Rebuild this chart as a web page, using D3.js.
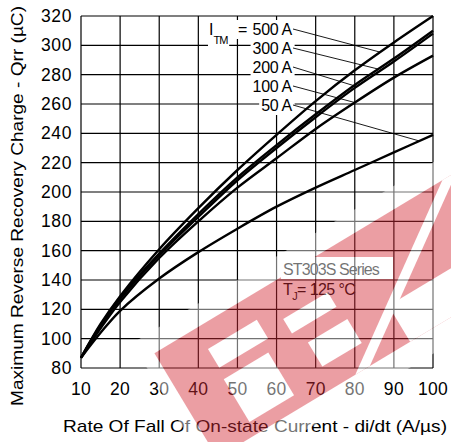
<!DOCTYPE html>
<html>
<head>
<meta charset="utf-8">
<script src="https://cdn.jsdelivr.net/npm/d3@7"></script>
<style>
  body { margin: 0; background: #fff; }
  svg text { font-family: "Liberation Sans", Arial, sans-serif; fill: #000; }
</style>
</head>
<body>
<svg id="chart" width="451" height="442"></svg>
<script>
// data
const didt = [10, 15, 20, 30, 40, 50, 60, 70, 80, 90, 100];
const qrr500 = [87, 110, 129, 161, 189, 215, 239, 262, 283, 302, 320];
const qrr300 = [87, 109, 128, 158, 185, 210, 232, 253, 273, 291, 310];
const qrr200 = [87, 109, 127, 157, 183, 208, 230, 251, 271, 289, 308];
const qrr100 = [87, 107, 125, 155, 180, 203, 223, 243, 261, 278, 293];
const qrr50 = [87, 104, 119, 141, 159, 175, 190, 203, 215, 227, 239];
const currentLabels = ["500 A", "300 A", "200 A", "100 A", "50 A"];
const leaderAt = [86.5, 86, 80.5, 80, 96.5]; // di/dt where each pointer meets its curve
const xTicks = [10, 20, 30, 40, 50, 60, 70, 80, 90, 100];
const yTicks = [80, 100, 120, 140, 160, 180, 200, 220, 240, 260, 280, 300, 320];

const seriesList = [qrr500, qrr300, qrr200, qrr100, qrr50];

const svg = d3.select("#chart");
const x = d3.scaleLinear().domain([10, 100]).range([81, 433]);
const y = d3.scaleLinear().domain([80, 320]).range([368, 16]);

// grid
svg.append("g").selectAll("line").data(xTicks).enter().append("line")
  .attr("x1", d => x(d)).attr("x2", d => x(d))
  .attr("y1", y(80)).attr("y2", y(320))
  .attr("stroke", "#000").attr("stroke-width", 1.2);
svg.append("g").selectAll("line").data(yTicks).enter().append("line")
  .attr("x1", x(10)).attr("x2", x(100))
  .attr("y1", d => y(d)).attr("y2", d => y(d))
  .attr("stroke", "#000").attr("stroke-width", 1.2);

// tick labels
svg.append("g").selectAll("text").data(yTicks).enter().append("text")
  .attr("x", 72).attr("y", d => y(d) + 6)
  .attr("text-anchor", "end").style("font-size", "17.5px")
  .style("letter-spacing", "0.6px")
  .text(d => d);
svg.append("g").selectAll("text").data(xTicks).enter().append("text")
  .attr("x", d => x(d)).attr("y", 395)
  .attr("text-anchor", "middle").style("font-size", "17.5px")
  .style("letter-spacing", "0.3px")
  .text(d => d);

// axis titles
svg.append("text")
  .attr("x", 255).attr("y", 432)
  .attr("text-anchor", "middle").style("font-size", "17px")
  .attr("textLength", 384).attr("lengthAdjust", "spacingAndGlyphs")
  .text("Rate Of Fall Of On-state Current - di/dt (A/µs)");
svg.append("text")
  .attr("transform", "translate(23,206) rotate(-90)")
  .attr("text-anchor", "middle").style("font-size", "17px")
  .attr("textLength", 400).attr("lengthAdjust", "spacingAndGlyphs")
  .text("Maximum Reverse Recovery Charge - Qrr (µC)");

// curves
const line = d3.line()
  .x((d, i) => x(didt[i]))
  .y(d => y(d))
  .curve(d3.curveCatmullRom.alpha(0.5));
svg.append("g").selectAll("path").data(seriesList).enter().append("path")
  .attr("d", d => line(d))
  .attr("fill", "none").attr("stroke", "#000").attr("stroke-width", 2.4);

// current labels with white boxes and pointer lines
const labelG = svg.append("g");
const baselines = currentLabels.map((d, i) => 35 + i * 19);
const labelTexts = labelG.selectAll("text").data(currentLabels).enter().append("text")
  .attr("x", 292).attr("y", (d, i) => baselines[i])
  .attr("text-anchor", "end").style("font-size", "16px")
  .style("letter-spacing", "-0.3px")
  .text(d => d);
labelTexts.each(function () {
  const b = this.getBBox();
  labelG.insert("rect", "text")
    .attr("x", b.x - 2).attr("y", b.y - 1)
    .attr("width", b.width + 4).attr("height", b.height + 2)
    .attr("fill", "#fff");
});
const eqText = labelG.append("text").attr("x", 238).attr("y", 35).style("font-size", "16px").text("=");
const eb = eqText.node().getBBox();
labelG.insert("rect", "text").attr("x", eb.x - 2).attr("y", eb.y - 1)
  .attr("width", eb.width + 4).attr("height", eb.height + 2).attr("fill", "#fff");
const itm = labelG.append("text").attr("x", 209).attr("y", 35).style("font-size", "16px");
itm.append("tspan").text("I");
itm.append("tspan").attr("dy", 9).style("font-size", "11px").style("letter-spacing", "-1px").text("TM");
const ib = itm.node().getBBox();
labelG.insert("rect", "text").attr("x", ib.x - 1).attr("y", ib.y)
  .attr("width", ib.width + 2).attr("height", ib.height).attr("fill", "#fff");

function valueAt(series, xv) {
  const i = Math.min(d3.bisectRight(didt, xv) - 1, didt.length - 2);
  const t = (xv - didt[i]) / (didt[i + 1] - didt[i]);
  return series[i] + t * (series[i + 1] - series[i]);
}
labelG.selectAll("line").data(currentLabels).enter().append("line")
  .attr("x1", 293).attr("y1", (d, i) => baselines[i] - 6)
  .attr("x2", (d, i) => x(leaderAt[i]))
  .attr("y2", (d, i) => y(valueAt(seriesList[i], leaderAt[i])))
  .attr("stroke", "#000").attr("stroke-width", 0.9);

// series note
svg.append("text").attr("x", 283).attr("y", 275)
  .style("font-size", "16px").style("letter-spacing", "-0.9px")
  .text("ST303S Series");
const tj = svg.append("text").attr("x", 283).attr("y", 295).style("font-size", "16px").style("letter-spacing", "-0.6px");
tj.append("tspan").text("T");
tj.append("tspan").attr("dy", 5).style("font-size", "11px").text("J");
tj.append("tspan").attr("dy", -5).text("= 125 °C");

// red watermark on top, semi transparent
const wmTop = svg.append("g").attr("opacity", 0.45);
const wm = wmTop.append("g").attr("transform", "translate(163,348) rotate(-31)");
wm.append("rect").attr("x", -24).attr("y", -20).attr("width", 500).attr("height", 164).attr("fill", "#fff");
wm.append("rect").attr("x", -10).attr("y", 0).attr("width", 480).attr("height", 122).attr("fill", "#d42a36");
const cuts = [[38, 24, 57, 22], [36, 58, 52, 50], [118, 37, 52, 17], [127, 70, 46, 28], [215, 80, 260, 42]];
wm.selectAll("rect.cut").data(cuts).enter().append("rect").attr("class", "cut")
  .attr("x", d => d[0]).attr("y", d => d[1]).attr("width", d => d[2]).attr("height", d => d[3])
  .attr("fill", "#fff");
wm.append("polygon").attr("points", "151,122 168,122 343,0 326,0").attr("fill", "#fff");
wmTop.append("rect").attr("x", 281).attr("y", 257).attr("width", 112).attr("height", 22).attr("fill", "#fff");
</script>
</body>
</html>
